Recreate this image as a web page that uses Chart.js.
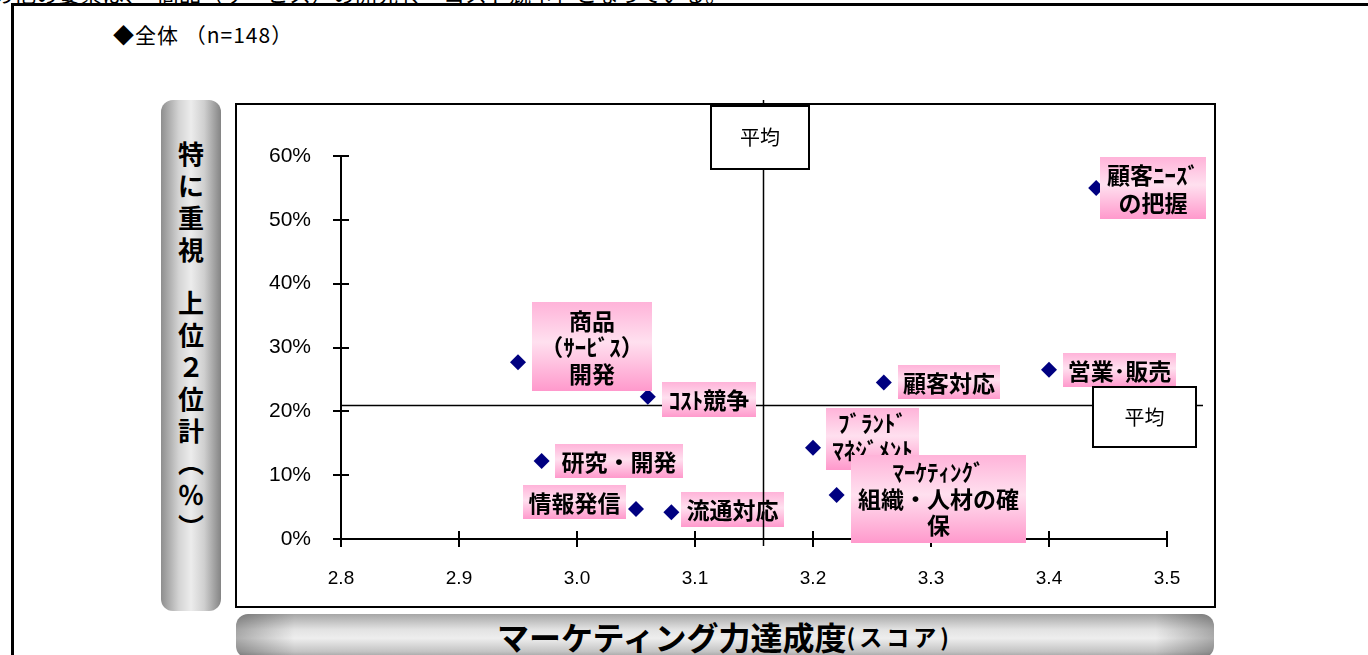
<!DOCTYPE html>
<html>
<head>
<meta charset="utf-8">
<script src="https://cdn.jsdelivr.net/npm/chart.js@4.4.0/dist/chart.umd.min.js"></script>
<style>
  html, body { margin: 0; padding: 0; background: #fff; overflow: hidden; }
  body { width: 1368px; height: 655px; position: relative; font-family: "Noto Sans CJK JP", sans-serif; }
  .lead { position: absolute; left: -8px; top: -19px; font-size: 22px; line-height: 22px; white-space: nowrap; }
  .outer { position: absolute; left: 11px; top: 3px; width: 1400px; height: 700px; border-left: 3px solid #000; border-top: 3px solid #000; }
  .subtitle { position: absolute; left: 113px; top: 22px; font-size: 21px; line-height: 24px; letter-spacing: 1px; white-space: nowrap; }
  .plot-frame { position: absolute; left: 235px; top: 103px; width: 981px; height: 505px; box-sizing: border-box; border: 2px solid #000; background: #fff; }
  .ytitle { position: absolute; left: 161px; top: 100px; width: 60px; height: 511px; border-radius: 12px;
    background: linear-gradient(to right, #8e8e8e, #d4d4d4 30%, #ececec 50%, #cfcfcf 72%, #848484); }
  .ytitle .txt { position: absolute; left: 0; top: 37px; width: 60px; display: flex; flex-direction: column; align-items: center;
    font-weight: bold; font-size: 26px; color: #000; }
  .ytitle .txt span { display: block; height: 32px; line-height: 32px; }
  .ytitle .txt span.gap { height: 53px; line-height: 74px; }
  .xtitle { position: absolute; left: 236px; top: 614px; width: 978px; height: 44px; border-radius: 12px;
    background: linear-gradient(to right, rgba(0,0,0,0.28), rgba(0,0,0,0) 6%, rgba(0,0,0,0) 94%, rgba(0,0,0,0.28)),
                linear-gradient(to bottom, #a6a6a6, #e2e2e2 35%, #eeeeee 55%, #c4c4c4 85%, #9c9c9c);
    display: flex; align-items: center; justify-content: center; font-weight: bold; color: #000; }
  .xtitle .big { font-size: 32px; line-height: 44px; }
  .xtitle .small { font-size: 23px; line-height: 44px; letter-spacing: 4px; }
  canvas { position: absolute; left: 0; top: 0; }
</style>
</head>
<body>
<div class="lead">の他の要素は、「商品（サービス）の開発」、「コスト競争」となっている。</div>
<div class="outer"></div>
<div class="subtitle">◆全体 （n=148）</div>
<div class="plot-frame"></div>
<div class="ytitle"><div class="txt"><span>特</span><span>に</span><span>重</span><span>視</span><span class="gap">上</span><span>位</span><span>２</span><span>位</span><span>計</span><span>︵</span><span>％</span><span>︶</span></div></div>
<div class="xtitle"><span class="big">マーケティング力達成度</span><span class="small">(スコア)</span></div>
<canvas id="chart" width="1368" height="655"></canvas>
<script>
// factor names as printed on the chart (line breaks as in the picture)
const categories = [
  '顧客ﾆｰｽﾞ\nの把握', '営業･販売', '顧客対応', '商品\n（ｻｰﾋﾞｽ）\n開発', 'ｺｽﾄ競争',
  '研究・開発', '情報発信', '流通対応', 'ﾌﾞﾗﾝﾄﾞ\nﾏﾈｼﾞﾒﾝﾄ', 'ﾏｰｹﾃｨﾝｸﾞ\n組織・人材の確\n保'
];
// marketing achievement score (x)
const scores = [3.44, 3.40, 3.26, 2.95, 3.06, 2.97, 3.05, 3.08, 3.20, 3.22];
// share that rated it top-2 (%) (y)
const shares = [55.0, 26.5, 24.5, 27.7, 22.3, 12.2, 4.7, 4.2, 14.3, 6.9];
const avgScore = 3.158;
const avgShare = 21.0;
const xRange = [2.8, 3.5];
const yRange = [0, 60];

// label box placement relative to each point
const labelLayout = [
  { dx: 4, dy: -31, w: 106, h: 62, lh: 28 },
  { dx: 14, dy: -17, w: 113, h: 34 },
  { dx: 14, dy: -18, w: 102, h: 34 },
  { dx: 14, dy: -60, w: 120, h: 89, lh: 26.5 },
  { dx: 14, dy: -15, w: 94, h: 35 },
  { dx: 13, dy: -17, w: 128, h: 34 },
  { dx: -113, dy: -24, w: 103, h: 34 },
  { dx: 10, dy: -20, w: 103, h: 35 },
  { dx: 13, dy: -40, w: 93, h: 62, lh: 27, ty: -3 },
  { dx: 14, dy: -40, w: 175, h: 88, lh: 26.5, ty: -1 }
];

const CJK = '"Noto Sans CJK JP", sans-serif';

function avgBox(ctx, x, y, w, h) {
  ctx.fillStyle = '#fff';
  ctx.fillRect(x, y, w, h);
  ctx.lineWidth = 2;
  ctx.strokeStyle = '#000';
  ctx.strokeRect(x, y, w, h);
  ctx.fillStyle = '#000';
  ctx.font = '20px ' + CJK;
  ctx.textAlign = 'center';
  ctx.textBaseline = 'middle';
  ctx.fillText('平均', x + w / 2, y + h / 2);
}

const quadrantPlugin = {
  id: 'quadrant',
  beforeDatasetsDraw(chart) {
    const { ctx, chartArea: a, scales: { x, y } } = chart;
    ctx.save();
    ctx.strokeStyle = '#000';
    ctx.lineWidth = 2;
    ctx.beginPath();
    ctx.moveTo(a.left, a.top);
    ctx.lineTo(a.left, a.bottom);
    ctx.lineTo(a.right, a.bottom);
    y.ticks.forEach(t => {
      const py = Math.round(y.getPixelForValue(t.value));
      ctx.moveTo(a.left - 8, py);
      ctx.lineTo(a.left + 8, py);
    });
    x.ticks.forEach(t => {
      const px = Math.round(x.getPixelForValue(t.value));
      ctx.moveTo(px, a.bottom - 8);
      ctx.lineTo(px, a.bottom + 8);
    });
    ctx.stroke();
    // horizontal average line
    const hy = Math.round(y.getPixelForValue(avgShare)) + 0.5;
    ctx.lineWidth = 1.5;
    ctx.beginPath();
    ctx.moveTo(a.left, hy);
    ctx.lineTo(a.right + 36, hy);
    ctx.stroke();
    ctx.restore();
  },
  afterDatasetsDraw(chart) {
    const { ctx, chartArea: a, scales: { x, y } } = chart;
    const pts = chart.getDatasetMeta(0).data;
    ctx.save();
    pts.forEach((p, i) => {
      const L = labelLayout[i];
      const bx = Math.round(p.x + L.dx), by = Math.round(p.y + L.dy);
      const g = ctx.createLinearGradient(0, by, 0, by + L.h);
      g.addColorStop(0, '#ffb3d9');
      g.addColorStop(0.45, '#ffe0ef');
      g.addColorStop(1, '#ff99cc');
      ctx.fillStyle = g;
      ctx.fillRect(bx, by, L.w, L.h);
      const lines = categories[i].split('\n');
      ctx.fillStyle = '#000';
      ctx.font = 'bold 23px ' + CJK;
      ctx.textAlign = 'center';
      ctx.textBaseline = 'middle';
      lines.forEach((ln, k) => {
        const cy = by + L.h / 2 + (L.ty || 0) + (k - (lines.length - 1) / 2) * (L.lh || 0);
        ctx.fillText(ln, bx + L.w / 2, cy + 1);
      });
    });
    // vertical average line
    const vx = Math.round(x.getPixelForValue(avgScore)) + 0.5;
    ctx.strokeStyle = '#000';
    ctx.lineWidth = 1.5;
    ctx.beginPath();
    ctx.moveTo(vx, a.top - 56);
    ctx.lineTo(vx, a.bottom + 7);
    ctx.stroke();
    const hy = y.getPixelForValue(avgShare);
    avgBox(ctx, Math.round(vx - 53), a.top - 50, 98, 63);
    avgBox(ctx, a.right - 74, Math.round(hy - 18), 103, 60);
    ctx.restore();
  }
};

new Chart(document.getElementById('chart'), {
  type: 'scatter',
  data: {
    datasets: [{
      data: scores.map((s, i) => ({ x: s, y: shares[i] })),
      pointStyle: 'rectRot',
      pointRadius: 8,
      pointHoverRadius: 8,
      pointBorderWidth: 0,
      backgroundColor: '#000080',
      borderColor: '#000080'
    }]
  },
  options: {
    responsive: false,
    animation: false,
    devicePixelRatio: 1,
    layout: { padding: { top: 156, right: 201, bottom: 0, left: 0 } },
    plugins: { legend: { display: false }, tooltip: { enabled: false } },
    scales: {
      x: {
        type: 'linear',
        min: xRange[0],
        max: xRange[1],
        grid: { display: false },
        border: { display: false },
        ticks: {
          stepSize: 0.1,
          padding: 20,
          color: '#000',
          font: { family: '"Liberation Sans", Arial, sans-serif', size: 19 },
          callback: v => v.toFixed(1)
        },
        afterFit: s => { s.height = 116; }
      },
      y: {
        min: yRange[0],
        max: yRange[1],
        grid: { display: false },
        border: { display: false },
        ticks: {
          stepSize: 10,
          padding: 22,
          color: '#000',
          font: { family: '"Liberation Sans", Arial, sans-serif', size: 21 },
          callback: v => v + '%'
        },
        afterFit: s => { s.width = 341; }
      }
    }
  },
  plugins: [quadrantPlugin]
});
</script>
</body>
</html>
